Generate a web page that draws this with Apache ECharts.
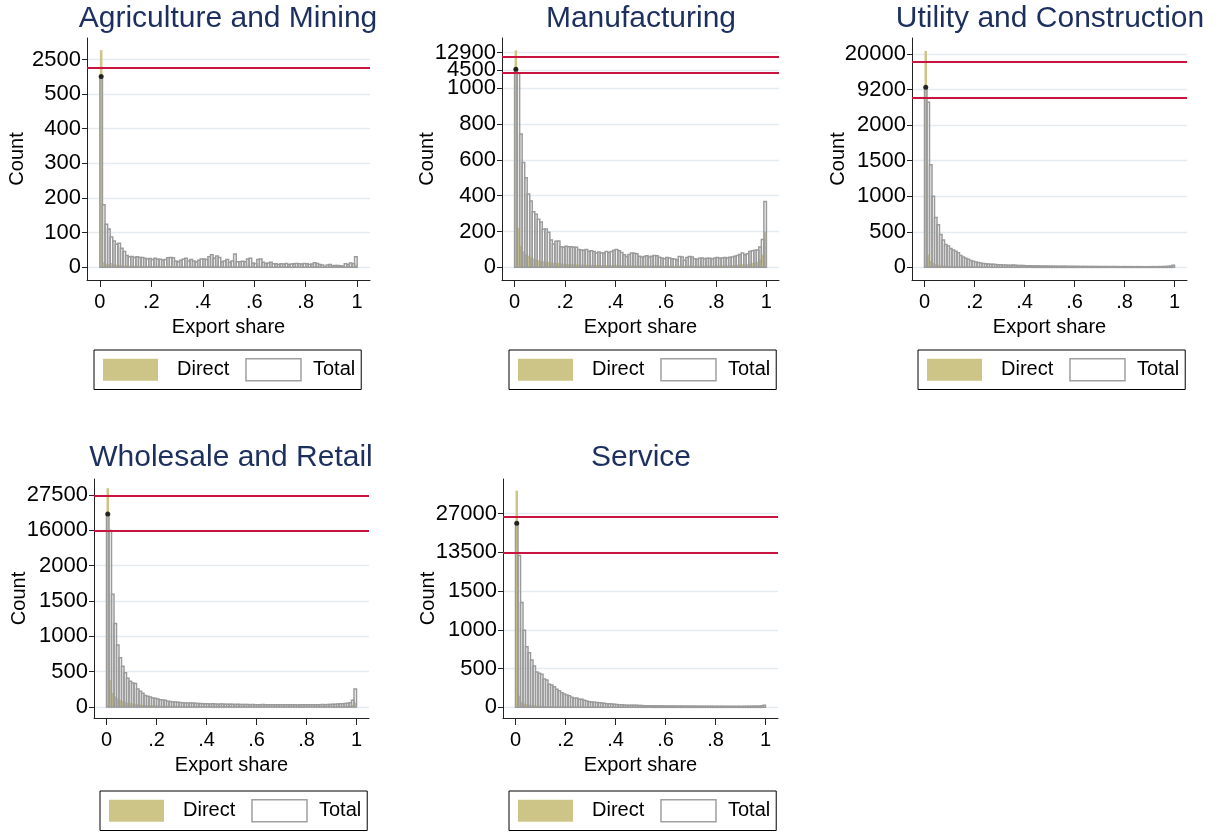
<!DOCTYPE html>
<html><head><meta charset="utf-8">
<script src="https://cdn.jsdelivr.net/npm/echarts@6/dist/echarts.min.js"></script>
<style>html,body{margin:0;padding:0;background:#fff}#c{width:1219px;height:833px}</style>
</head><body><div id="c"></div>
<script>
// ---------- data ----------
const panelTitles = ['Agriculture and Mining', 'Manufacturing', 'Utility and Construction', 'Wholesale and Retail', 'Service'];
const seriesNames = ['Direct', 'Total'];
const binWidth = 0.01; // histogram bins of width .01 from 0 to 1
const xTickValues = [0, 0.2, 0.4, 0.6, 0.8, 1];
const xTickLabels = ['0', '.2', '.4', '.6', '.8', '1'];

const agriTotal = [1520,180,124,110,87,76,66,69,55,45, 34,30,31,28,30,28,28,26,24,25, 22,26,23,23,21,22,27,28,27,18, 16,20,23,26,18,22,18,15,20,24, 24,22,30,36,26,32,28,16,18,22, 14,18,38,16,16,17,16,24,26,12, 10,22,24,14,11,12,14,10,10,8, 10,9,11,8,9,10,11,10,9,11, 10,8,9,13,11,8,6,2,6,8, 4,5,5,4,3,10,8,12,10,30];
const agriDirect = [3040,14,10,9,12,8,7,6,6,5, 5,4,5,4,4,3,4,3,3,4, 3,3,4,3,3,2,3,3,2,3, 2,3,2,3,2,2,3,2,2,3, 3,2,2,3,2,3,2,2,1,2, 2,1,3,2,1,2,2,1,2,1, 1,2,1,1,2,1,1,1,2,1, 1,1,1,2,1,1,1,1,1,1, 1,1,1,2,1,1,0,0,1,1, 0,1,1,0,0,1,1,2,2,6];
const agriYTicks = [0,100,200,300,400,500,2500];
const agriBreaks = [2020];

const manufTotal = [5000,3870,745,585,500,410,370,310,296,268, 253,212,214,196,152,130,145,147,115,112, 118,115,115,112,112,100,96,95,100,90, 92,88,80,85,80,80,88,82,88,95, 100,92,82,70,60,72,80,78,75,62, 58,60,65,58,62,66,65,56,52,48, 55,52,48,46,42,60,58,40,55,60, 58,48,45,50,52,48,50,50,46,52, 55,50,52,55,52,56,58,62,66,72, 80,70,75,88,92,95,96,114,155,367];
const manufDirect = [13900,220,120,90,75,65,56,50,45,40, 36,34,32,30,28,26,25,24,22,20, 19,18,18,17,16,16,15,15,14,14, 14,13,13,13,12,12,13,12,12,13, 14,12,12,11,10,11,12,11,11,10, 10,10,11,10,10,11,11,10,9,9, 10,9,9,9,8,10,10,8,9,10, 10,9,9,9,10,9,10,10,9,10, 11,10,11,11,11,12,12,13,14,15, 17,16,18,21,24,27,31,44,70,200];
const manufYTicks = [0,200,400,600,800,1000,4500,12900];
const manufBreaks = [4100, 10900];

const utilTotal = [9830,6590,1440,1000,700,600,460,385,320,300, 265,245,225,205,165,145,128,112,96,85, 75,68,62,55,50,47,45,42,40,38, 36,34,32,31,30,32,28,26,25,26, 24,22,22,20,21,20,19,18,18,17, 17,16,16,15,15,16,15,14,14,14, 13,13,12,13,12,12,11,12,11,11, 11,10,11,10,10,11,10,10,9,10, 10,9,10,9,9,10,9,9,8,9, 9,10,9,10,10,11,12,14,18,30];
const utilDirect = [20890,180,90,60,45,36,30,25,22,20, 18,16,15,13,12,11,10,9,8,8, 7,7,6,6,6,5,5,5,5,4, 4,4,4,4,3,4,3,3,3,3, 3,3,3,2,3,2,2,2,2,2, 2,2,2,2,2,2,2,2,2,2, 2,2,1,2,1,2,1,1,2,1, 1,1,1,1,1,1,1,3,1,1, 1,1,1,1,1,1,1,1,1,1, 1,1,1,1,1,1,1,2,2,6];
const utilYTicks = [0,500,1000,1500,2000,9200,20000];
const utilBreaks = [7500, 17600];

const wholeTotal = [21290,15900,1597,1180,877,697,578,483,408,365, 341,332,256,223,194,161,152,142,128,123, 114,104,100,95,80,76,72,70,66,62, 60,58,56,57,55,52,50,48,47,45, 44,43,45,42,40,42,41,40,38,40, 38,36,37,35,36,34,35,33,34,32, 33,32,34,31,32,30,33,31,30,32, 31,30,32,30,31,30,29,31,30,32, 31,30,31,33,32,31,34,33,35,36, 38,40,42,44,46,48,52,60,95,256];
const wholeDirect = [29730,380,200,150,120,100,85,70,60,55, 50,45,40,36,32,30,28,26,24,22, 20,19,18,17,16,15,15,14,13,13, 12,12,11,11,11,10,10,10,9,9, 9,9,9,8,8,8,8,8,7,8, 7,7,7,7,7,6,7,6,6,6, 6,6,6,6,6,5,6,5,5,6, 5,5,6,5,5,5,5,5,5,6, 5,5,6,6,6,6,6,7,7,8, 8,9,10,11,12,14,16,20,30,60];
const wholeYTicks = [0,500,1000,1500,2000,16000,27500];
const wholeBreaks = [15850, 27150];

const serviceTotal = [23600,12500,1351,995,781,704,609,532,455,438, 425,365,352,296,287,266,232,215,189,172, 159,150,129,116,120,103,103,90,82,73, 69,64,62,58,55,52,47,45,42,39, 36,34,32,30,28,27,27,26,25,24, 22,21,21,20,20,19,19,18,18,18, 17,17,17,16,16,16,16,15,15,15, 15,15,14,14,14,14,14,13,14,13, 13,13,13,13,12,13,13,12,12,13, 12,13,13,14,14,15,15,16,18,26];
const serviceDirect = [34970,150,70,50,40,35,30,26,22,20, 18,16,15,14,13,12,11,10,9,9, 8,8,7,7,7,6,6,6,5,5, 5,5,4,4,4,4,4,3,3,3, 3,3,3,3,3,2,2,2,2,2, 2,2,2,2,2,2,2,2,2,2, 2,2,2,1,2,1,1,2,1,1, 1,1,1,1,1,1,1,1,1,1, 1,1,1,1,1,1,1,1,1,1, 1,1,1,1,1,1,1,1,2,5];
const serviceYTicks = [0,500,1000,1500,13500,27000];
const serviceBreaks = [13200, 25700];

// ---------- broken-axis scale: [real count, axis position] knots ----------
const scaleKnots = [
  [[0,0],[500,500],[2500,600]],
  [[0,0],[1000,1000],[4500,1100],[12900,1200]],
  [[0,0],[2000,2000],[9200,2500],[20000,3000]],
  [[0,0],[2000,2000],[16000,2500],[27500,3000]],
  [[0,0],[1500,1500],[13500,2000],[27000,2500]]
];

// ---------- layout ----------
const layout = [
  {grid:[87,38,283,242],  yRange:[-37,662],   nameGap:60, legend:[94,350],  title:[228,4]},
  {grid:[502,38,277,242], yRange:[-71,1281],  nameGap:65, legend:[509,350], title:[641,4]},
  {grid:[912,38,275,242], yRange:[-178,3223], nameGap:64, legend:[918,350], title:[1050,4]},
  {grid:[94,479,275,239], yRange:[-156,3227], nameGap:65, legend:[100,791], title:[231,443]},
  {grid:[503,479,275,239],yRange:[-138,2945], nameGap:65, legend:[509,791], title:[641,443]}
];

const totals = [agriTotal, manufTotal, utilTotal, wholeTotal, serviceTotal];
const directs = [agriDirect, manufDirect, utilDirect, wholeDirect, serviceDirect];
const yTicks = [agriYTicks, manufYTicks, utilYTicks, wholeYTicks, serviceYTicks];
const breaks = [agriBreaks, manufBreaks, utilBreaks, wholeBreaks, serviceBreaks];

const FONT = "'Liberation Sans', Arial, Helvetica, sans-serif";
const KHAKI = '#cdc587';
const OUTLINE = '#9a9a9a';
const RED = '#c8143f';
const NAVY = '#1c2f5e';
const GRIDLINE = { show: true, lineStyle: { color: '#e5ecf1', width: 1.3 } };
const YLABEL = { margin: 6, fontSize: 22, color: '#000', fontFamily: FONT, hideOverlap: false };
const YTICK = { show: true, length: 5, lineStyle: { color: '#222' } };

function toAxis(v, knots) {
  for (let i = 0; i < knots.length - 1; i++) {
    const a = knots[i], b = knots[i + 1];
    if (v <= b[0]) return a[1] + (v - a[0]) * (b[1] - a[1]) / (b[0] - a[0]);
  }
  const a = knots[knots.length - 2], b = knots[knots.length - 1];
  return b[1] + (v - b[0]) * (b[1] - a[1]) / (b[0] - a[0]);
}

function barData(counts, knots) {
  return counts.map((c, i) => [i * binWidth, (i + 1) * binWidth, toAxis(c, knots), c]);
}

function barRenderer(style) {
  return function (params, api) {
    const p0 = api.coord([api.value(0), api.value(2)]);
    const p1 = api.coord([api.value(1), 0]);
    return { type: 'rect', shape: { x: p0[0], y: p0[1], width: p1[0] - p0[0], height: p1[1] - p0[1] }, style: style };
  };
}

const grids = [], xAxes = [], yAxes = [], series = [], titles = [], legends = [];
panelTitles.forEach((name, i) => {
  const L = layout[i], K = scaleKnots[i];
  grids.push({ left: L.grid[0], top: L.grid[1], width: L.grid[2], height: L.grid[3], containLabel: false, outerBoundsMode: 'none' });
  xAxes.push({
    gridIndex: i, type: 'value', min: -0.05, max: 1.05,
    name: 'Export share', nameLocation: 'middle', nameGap: 37, nameMoveOverlap: false,
    nameTextStyle: { fontSize: 20, color: '#000', fontFamily: FONT },
    axisLine: { onZero: false, lineStyle: { color: '#222', width: 1 } },
    axisTick: { show: true, length: 7, customValues: xTickValues, lineStyle: { color: '#222' } },
    axisLabel: { customValues: xTickValues, margin: 12, fontSize: 20, color: '#000', fontFamily: FONT,
      hideOverlap: false, showMinLabel: true, showMaxLabel: true,
      formatter: v => xTickLabels[xTickValues.findIndex(t => Math.abs(t - v) < 1e-9)] },
    splitLine: { show: false }
  });
  // linear part of the broken axis
  const linearTop = K[1][0];
  const lowTicks = yTicks[i].filter(t => t <= linearTop);
  const highTicks = yTicks[i].filter(t => t > linearTop);
  const mainIndex = yAxes.length;
  const lowPos = lowTicks.map(t => toAxis(t, K));
  yAxes.push({
    gridIndex: i, type: 'value', position: 'left', min: L.yRange[0], max: L.yRange[1],
    name: 'Count', nameLocation: 'middle', nameGap: L.nameGap, nameRotate: 90, nameMoveOverlap: false,
    nameTextStyle: { fontSize: 20, color: '#000', fontFamily: FONT },
    axisLine: { show: true, onZero: false, lineStyle: { color: '#222', width: 1 } },
    axisTick: Object.assign({ customValues: lowPos }, YTICK),
    axisLabel: Object.assign({ customValues: lowPos, showMinLabel: true, showMaxLabel: true,
      formatter: v => { const k = lowPos.findIndex(p => Math.abs(p - v) < 1e-6); return k >= 0 ? String(lowTicks[k]) : ''; } }, YLABEL),
    splitLine: GRIDLINE
  });
  // one overlay axis per tick above the break, so close labels are not dropped
  highTicks.forEach(t => {
    const pos = toAxis(t, K);
    yAxes.push({
      gridIndex: i, type: 'value', position: 'left', min: L.yRange[0], max: L.yRange[1],
      axisLine: { show: false, onZero: false },
      axisTick: Object.assign({ customValues: [pos] }, YTICK),
      axisLabel: Object.assign({ customValues: [pos], formatter: () => String(t) }, YLABEL),
      splitLine: GRIDLINE
    });
  });
  series.push({
    type: 'custom', name: 'Direct', xAxisIndex: i, yAxisIndex: mainIndex,
    renderItem: barRenderer({ fill: KHAKI, stroke: null, lineWidth: 0 }),
    encode: { x: [0, 1], y: 2 }, itemStyle: { color: KHAKI },
    data: barData(directs[i], K), z: 2, silent: true
  });
  series.push({
    type: 'custom', name: 'Total', xAxisIndex: i, yAxisIndex: mainIndex,
    renderItem: barRenderer({ fill: 'none', stroke: OUTLINE, lineWidth: 1.5 }),
    encode: { x: [0, 1], y: 2 }, itemStyle: { color: '#fff', borderColor: OUTLINE },
    data: barData(totals[i], K), z: 3, silent: true,
    markLine: { silent: true, symbol: 'none', label: { show: false }, z: 6,
      lineStyle: { color: RED, width: 2, type: 'solid' },
      emphasis: { disabled: true },
      data: breaks[i].map(b => ({ yAxis: toAxis(b, K) })) }
  });
  series.push({
    type: 'scatter', name: 'peak', xAxisIndex: i, yAxisIndex: mainIndex, z: 7, silent: true,
    symbol: 'circle', symbolSize: 5, itemStyle: { color: '#000' },
    data: [[binWidth / 2, toAxis(totals[i][0], K)]]
  });
  titles.push({ text: name, left: L.title[0], top: L.title[1], textAlign: 'center', padding: 0,
    textStyle: { fontSize: 30, fontWeight: 'normal', color: NAVY, fontFamily: FONT } });
  legends.push({
    left: L.legend[0], top: L.legend[1], orient: 'horizontal', selectedMode: false,
    borderColor: '#000', borderWidth: 1, padding: [8, 6, 8, 9],
    itemWidth: 55, itemHeight: 22, itemGap: 16,
    textStyle: { fontSize: 20, color: '#000', fontFamily: FONT },
    data: [
      { name: 'Direct', icon: 'rect', itemStyle: { color: KHAKI, borderWidth: 0 }, textStyle: { padding: [0, 0, 0, 14] } },
      { name: 'Total', icon: 'rect', itemStyle: { color: '#fff', borderColor: '#a0a0a0', borderWidth: 1.5 }, textStyle: { padding: [0, 0, 0, 7] } }
    ]
  });
});

const chart = echarts.init(document.getElementById('c'), null, { renderer: 'canvas' });
chart.setOption({
  backgroundColor: '#fff', animation: false,
  title: titles, legend: legends, grid: grids, xAxis: xAxes, yAxis: yAxes, series: series
});
</script></body></html>
